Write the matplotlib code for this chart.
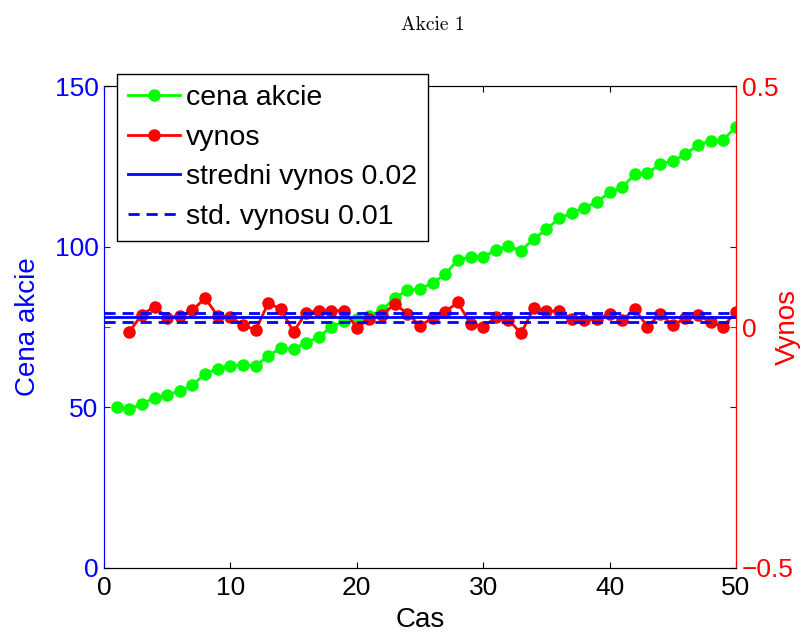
import numpy as np
import matplotlib
matplotlib.use("Agg")
import matplotlib.pyplot as plt

# cena akcie, den 1..50
cas = list(range(1, 51))
cena = [50.0, 49.5, 51.0, 53.0, 54.0, 55.0, 57.0, 60.4, 62.0, 63.0,
        63.2, 63.0, 66.0, 68.5, 68.3, 70.0, 72.0, 75.0, 77.0, 77.5,
        78.4, 80.3, 84.0, 86.5, 86.8, 88.7, 91.5, 95.9, 96.8, 96.8,
        99.0, 100.1, 98.8, 102.4, 105.4, 108.8, 110.5, 112.1, 113.9, 116.9,
        118.5, 122.6, 122.8, 125.8, 126.7, 128.8, 131.7, 132.9, 133.2, 137.4]

# vynos, den 2..50
cas_vynos = list(range(2, 51))
vynos = [-0.010, 0.026, 0.042, 0.019, 0.023, 0.035, 0.060, 0.023, 0.021, 0.004,
         -0.006, 0.050, 0.037, -0.010, 0.030, 0.034, 0.034, 0.034, -0.001, 0.016,
         0.025, 0.048, 0.028, 0.003, 0.018, 0.032, 0.051, 0.006, 0.001, 0.020,
         0.015, -0.013, 0.039, 0.033, 0.033, 0.017, 0.015, 0.017, 0.027, 0.015,
         0.037, 0.001, 0.027, 0.004, 0.018, 0.025, 0.010, 0.001, 0.032]

stredni = 0.02
std_v = 0.01

fs = 20
fs_tick = 19
plt.rcParams['font.family'] = ['Liberation Sans', 'DejaVu Sans']

fig = plt.figure(figsize=(8.03, 6.33), dpi=100)
ax = fig.add_axes([0.1295, 0.1027, 0.787, 0.7613])
ax2 = ax.twinx()

h1, = ax.plot(cas, cena, '-o', color='#00ff00', lw=2, ms=8, label='cena akcie')
ax.set_xlim(0, 50)
ax.set_ylim(0, 150)
ax.set_yticks([0, 50, 100, 150])
ax.set_xticks([0, 10, 20, 30, 40, 50])
ax.tick_params(axis='y', colors='blue', direction='in', right=True, labelsize=fs_tick, length=4, pad=4)
ax.tick_params(axis='x', direction='in', top=True, labelsize=fs_tick, length=4, pad=6)
ax.set_ylabel('Cena akcie', color='blue', fontsize=fs)
ax.yaxis.set_label_coords(-0.099, 0.5)
ax.set_xlabel('Cas', fontsize=fs)
ax.xaxis.set_label_coords(0.5, -0.08)
ax.spines['left'].set_color('blue')

h2, = ax2.plot(cas_vynos, vynos, '-o', color='red', lw=2, ms=8, label='vynos')
h3 = ax2.axhline(stredni, color='blue', lw=2, label='stredni vynos 0.02')
h4 = ax2.axhline(stredni + std_v, color='blue', lw=2, ls=(0, (4, 2.5)), label='std. vynosu 0.01')
ax2.axhline(stredni - std_v, color='blue', lw=2, ls=(0, (4, 2.5)))
ax2.set_ylim(-0.5, 0.5)
ax2.set_yticks([-0.5, 0, 0.5])
ax2.set_yticklabels(['\u22120.5', '0', '0.5'])
ax2.tick_params(axis='y', colors='red', direction='in', left=True, labelsize=fs_tick, length=4, pad=4)
ax2.set_ylabel('Vynos', color='red', fontsize=fs)
ax2.yaxis.set_label_coords(1.062, 0.5)
ax2.spines['right'].set_color('red')
ax2.spines['left'].set_color('blue')

leg = ax2.legend(handles=[h1, h2, h3, h4], loc='upper left',
                 bbox_to_anchor=(117 / 803, 1 - 74 / 633), bbox_transform=fig.transFigure,
                 fontsize=20.5, fancybox=False, framealpha=1, edgecolor='black',
                 handlelength=1.8, handletextpad=0.22, borderpad=0.4,
                 borderaxespad=0, labelspacing=0.47)
leg.get_frame().set_linewidth(1)
leg.set_zorder(10)

fig.text(433 / 803, 1 - 25 / 633, 'Akcie 1', family='cmr10', fontsize=14,
         ha='center', va='center')

fig.savefig('out.png', dpi=100)
